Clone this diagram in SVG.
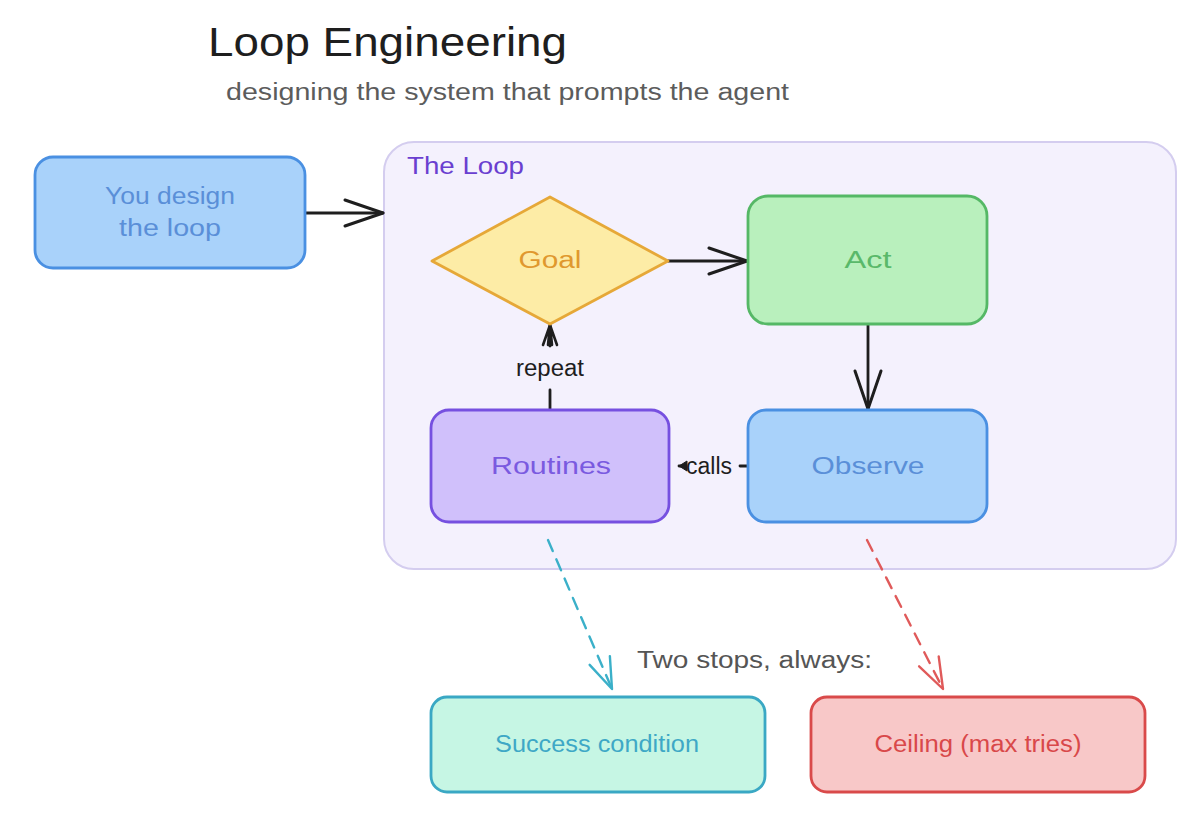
<svg xmlns="http://www.w3.org/2000/svg" width="1199" height="825" viewBox="0 0 1199 825">
<style>
  text { font-family: "Liberation Sans", "DejaVu Sans", sans-serif; }
  .lbl { text-anchor: middle; dominant-baseline: central; font-size: 23px; }
  .box { stroke-width: 2.8; }
  .conn { fill: none; stroke: #1e1e1e; stroke-width: 2.8; stroke-linecap: round; }
  .dash { fill: none; stroke-width: 2.4; stroke-dasharray: 12 9; stroke-linecap: round; }
</style>
<defs>
  <marker id="arrBlack" markerUnits="userSpaceOnUse" viewBox="-42 -16 46 32" markerWidth="46" markerHeight="32" refX="0" refY="0" orient="auto" overflow="visible">
    <path d="M-38,-13 L0,0 L-38,13" fill="none" stroke="#1e1e1e" stroke-width="3" stroke-linecap="round" stroke-linejoin="round"/>
  </marker>
  <marker id="arrSmall" markerUnits="userSpaceOnUse" viewBox="-24 -10 28 20" markerWidth="28" markerHeight="20" refX="0" refY="0" orient="auto" overflow="visible">
    <path d="M-20,-7 L0,0 L-20,7 M-20,-2 L0,0 L-20,2" fill="none" stroke="#1e1e1e" stroke-width="2.6" stroke-linecap="round" stroke-linejoin="round"/>
  </marker>
  <marker id="arrTri" markerUnits="userSpaceOnUse" viewBox="-10 -6 12 12" markerWidth="12" markerHeight="12" refX="0" refY="0" orient="auto" overflow="visible">
    <path d="M-8,-5 L0,0 L-8,5 Z" fill="#1e1e1e" stroke="#1e1e1e" stroke-width="1"/>
  </marker>
  <marker id="arrCyan" markerUnits="userSpaceOnUse" viewBox="-34 -14 38 28" markerWidth="38" markerHeight="28" refX="0" refY="0" orient="auto" overflow="visible">
    <path d="M-31,-11 L0,0 L-31,11" fill="none" stroke="#3bb0c9" stroke-width="2.4" stroke-linecap="round" stroke-linejoin="round"/>
  </marker>
  <marker id="arrRed" markerUnits="userSpaceOnUse" viewBox="-34 -14 38 28" markerWidth="38" markerHeight="28" refX="0" refY="0" orient="auto" overflow="visible">
    <path d="M-31,-11 L0,0 L-31,11" fill="none" stroke="#e05a5a" stroke-width="2.4" stroke-linecap="round" stroke-linejoin="round"/>
  </marker>
</defs>

<rect width="1199" height="825" fill="#ffffff"/>

<g id="title">
  <text x="208" y="56" font-size="40" fill="#1e1e1e" textLength="359" lengthAdjust="spacingAndGlyphs">Loop Engineering</text>
  <text x="226" y="100" font-size="23" fill="#5c5c5c" textLength="563" lengthAdjust="spacingAndGlyphs">designing the system that prompts the agent</text>
</g>

<g id="loop-container">
  <rect x="384" y="142" width="792" height="427" rx="30" fill="#f4f1fd" stroke="#d4cdef" stroke-width="2"/>
  <text x="407" y="174" font-size="23" fill="#6a3fd0" textLength="117" lengthAdjust="spacingAndGlyphs">The Loop</text>
</g>

<g id="connectors">
  <line class="conn" x1="305" y1="213" x2="383" y2="213" marker-end="url(#arrBlack)"/>
  <line class="conn" x1="668" y1="261" x2="747" y2="261" marker-end="url(#arrBlack)"/>
  <line class="conn" x1="868" y1="325" x2="868" y2="409" marker-end="url(#arrBlack)"/>
  <line class="conn" x1="550" y1="409" x2="550" y2="390"/>
  <line class="conn" x1="550" y1="346" x2="550" y2="325" marker-end="url(#arrSmall)"/>
  <text x="550" y="368" class="lbl" font-size="19" fill="#1e1e1e" textLength="68" lengthAdjust="spacingAndGlyphs">repeat</text>
  <line class="conn" x1="748" y1="466" x2="740" y2="466"/>
  <line class="conn" x1="684" y1="466" x2="679" y2="466" marker-end="url(#arrTri)"/>
  <text x="709" y="466" class="lbl" font-size="19" fill="#1e1e1e" textLength="46" lengthAdjust="spacingAndGlyphs">calls</text>
  <line class="dash" stroke="#3bb0c9" x1="548" y1="540" x2="612" y2="689" marker-end="url(#arrCyan)"/>
  <line class="dash" stroke="#e05a5a" x1="867" y1="540" x2="943" y2="689" marker-end="url(#arrRed)"/>
  <text x="637" y="668" font-size="23" fill="#555555" textLength="235" lengthAdjust="spacingAndGlyphs">Two stops, always:</text>
</g>

<g id="you-design">
  <rect class="box" x="35" y="157" width="270" height="111" rx="18" fill="#a9d2fa" stroke="#4a90e2"/>
  <text x="170" y="196" class="lbl" fill="#5a8fd8" textLength="130" lengthAdjust="spacingAndGlyphs">You design</text>
  <text x="170" y="228" class="lbl" fill="#5a8fd8" textLength="102" lengthAdjust="spacingAndGlyphs">the loop</text>
</g>

<g id="goal">
  <polygon class="box" points="432,261 550,197 668,261 550,324" fill="#fdeca6" stroke="#e6a838" stroke-linejoin="round"/>
  <text x="550" y="260" class="lbl" font-size="25" fill="#e0982e" textLength="63" lengthAdjust="spacingAndGlyphs">Goal</text>
</g>

<g id="act">
  <rect class="box" x="748" y="196" width="239" height="128" rx="20" fill="#b9f0bd" stroke="#55b866"/>
  <text x="868" y="260" class="lbl" font-size="25" fill="#59b96a" textLength="47" lengthAdjust="spacingAndGlyphs">Act</text>
</g>

<g id="observe">
  <rect class="box" x="748" y="410" width="239" height="112" rx="18" fill="#a9d2fa" stroke="#4a90e2"/>
  <text x="868" y="466" class="lbl" font-size="25" fill="#5a8fd8" textLength="113" lengthAdjust="spacingAndGlyphs">Observe</text>
</g>

<g id="routines">
  <rect class="box" x="431" y="410" width="238" height="112" rx="18" fill="#d0c0fb" stroke="#7650e0"/>
  <text x="551" y="466" class="lbl" font-size="25" fill="#7a5ae0" textLength="120" lengthAdjust="spacingAndGlyphs">Routines</text>
</g>

<g id="success">
  <rect class="box" x="431" y="697" width="334" height="95" rx="16" fill="#c6f6e4" stroke="#3aa8c4"/>
  <text x="597" y="744" class="lbl" font-size="22" fill="#3ea8c6" textLength="204" lengthAdjust="spacingAndGlyphs">Success condition</text>
</g>

<g id="ceiling">
  <rect class="box" x="811" y="697" width="334" height="95" rx="16" fill="#f8c8c8" stroke="#d94a4a"/>
  <text x="978" y="744" class="lbl" font-size="22" fill="#d9484a" textLength="207" lengthAdjust="spacingAndGlyphs">Ceiling (max tries)</text>
</g>
</svg>
